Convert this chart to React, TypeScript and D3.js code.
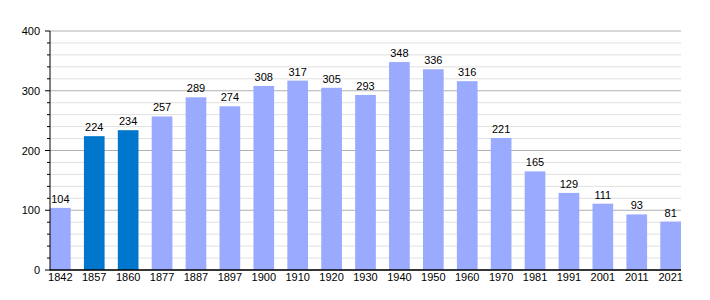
import React from "react";
import * as d3 from "d3";

const years = ["1842","1857","1860","1877","1887","1897","1900","1910","1920","1930","1940","1950","1960","1970","1981","1991","2001","2011","2021"];
const population = [104,224,234,257,289,274,308,317,305,293,348,336,316,221,165,129,111,93,81];
const highlighted = ["1857","1860"];
const yTicks = [0,100,200,300,400];
const minorTicks = d3.range(0, 401, 20);

export default function App() {
  const W = 710, H = 300;
  const left = 50, right = 681, top = 31, bottom = 270;
  const x = d3.scaleBand<string>().domain(years).range([left, right]).paddingInner(0.39).paddingOuter(0).align(0);
  const y = d3.scaleLinear().domain([0, 400]).range([bottom, top]);
  const font = "'Liberation Sans', Arial, sans-serif";
  return (
    <svg width={W} height={H} style={{ position: "absolute", left: 0, top: 0 }} fontFamily={font}>
      <rect width={W} height={H} fill="#fff" />
      {minorTicks.map(t => (
        <line key={"g" + t} x1={left} x2={right} y1={y(t)} y2={y(t)}
          stroke={t % 100 === 0 ? "#b0b0b0" : "#e0e0e0"} strokeWidth={1} />
      ))}
      {minorTicks.map(t => (
        <line key={"m" + t} x1={left - (t % 100 === 0 ? 5 : 3)} x2={left} y1={y(t)} y2={y(t)} stroke="#000" strokeWidth={1} />
      ))}
      {years.map((yr, i) => (
        <g key={yr}>
          <rect x={x(yr)} y={y(population[i])} width={x.bandwidth()} height={bottom - y(population[i])}
            fill={highlighted.includes(yr) ? "#0077cc" : "#99aaff"} />
          <text x={(x(yr) as number) + x.bandwidth() / 2} y={y(population[i]) - 5} textAnchor="middle" fontSize={11}>{population[i]}</text>
          <text x={(x(yr) as number) + x.bandwidth() / 2} y={281} textAnchor="middle" fontSize={11}>{yr}</text>
        </g>
      ))}
      <line x1={left} x2={left} y1={top} y2={bottom + 0.5} stroke="#000" strokeWidth={1} />
      <line x1={left} x2={right} y1={bottom} y2={bottom} stroke="#000" strokeWidth={1.5} />
      {yTicks.map(t => (
        <text key={"l" + t} x={40} y={y(t) + 4} textAnchor="end" fontSize={11}>{t}</text>
      ))}
    </svg>
  );
}
